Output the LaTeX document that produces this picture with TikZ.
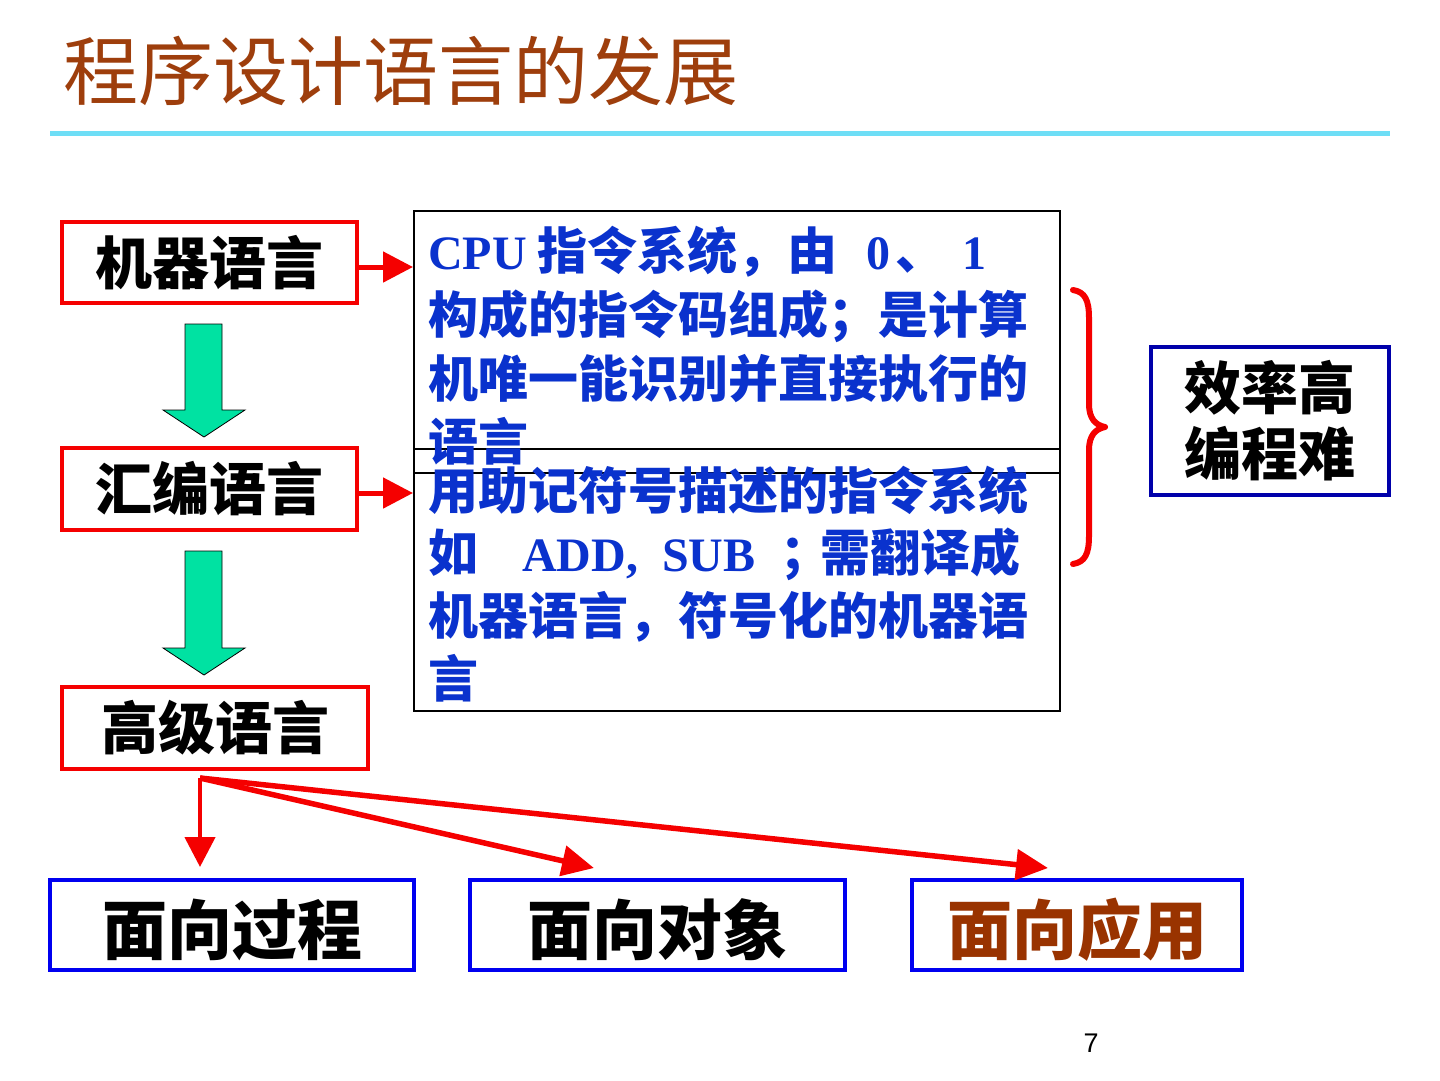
\documentclass[tikz,border=0pt]{standalone}
\usepackage{fontspec}
\setmainfont{Liberation Serif}
\newfontfamily\cjk{Noto Sans CJK SC}
\newfontfamily\lsans{Liberation Sans}
\usetikzlibrary{arrows.meta}
\definecolor{titlebrown}{RGB}{158,62,12}
\definecolor{rulecyan}{RGB}{110,222,246}
\definecolor{boxred}{RGB}{245,0,0}
\definecolor{arrgreen}{RGB}{0,226,162}
\definecolor{descblue}{RGB}{10,50,205}
\definecolor{effblue}{RGB}{0,0,170}
\definecolor{botblue}{RGB}{0,0,240}
\definecolor{appbrown}{RGB}{153,51,0}
\tikzset{
  redbox/.style={draw=boxred, line width=4pt, inner sep=0pt, font=\cjk\bfseries\fontsize{57}{64}\selectfont},
  descbox/.style={draw=black, line width=2pt, inner sep=0pt},
  effbox/.style={draw=effblue, line width=4pt, inner sep=0pt, align=center, font=\cjk\bfseries\fontsize{57}{66}\selectfont},
  botbox/.style={draw=botblue, line width=4pt, inner sep=0pt, text height=64pt, text depth=5pt, font=\cjk\bfseries\fontsize{65}{72}\selectfont},
  desctxt/.style={anchor=base west, inner sep=0pt, text=descblue, font=\cjk\bfseries\fontsize{50}{60}\selectfont},
  lattxt/.style={anchor=base west, inner sep=0pt, text=descblue, font=\bfseries\fontsize{48}{58}\selectfont},
  garrow/.style={fill=arrgreen, draw=black, line width=0.8pt, line join=miter},
  rarrow/.style={draw=boxred, line width=5pt, -{Triangle[length=30pt,width=30pt]}},
  rarrowb/.style={draw=boxred, line width=5.5pt, -{Triangle[length=32pt,width=30pt]}},
}
\begin{document}
\begin{tikzpicture}[x=1pt,y=-1pt]
\useasboundingbox (0,0) rectangle (1440,1080);
\fill[white] (0,0) rectangle (1440,1080);
% title
\node[anchor=west, inner sep=0pt, text=titlebrown, font=\cjk\fontsize{75}{80}\selectfont] (title) at (63,71) {程序设计语言的发展};
\draw[rulecyan, line width=5pt] (50,133) -- (1390,133);
% left boxes
\node[redbox, minimum width=295pt, minimum height=81pt] (m) at (209.5,262.5) {机器语言};
\node[redbox, minimum width=295pt, minimum height=82pt] (h) at (209.5,489) {汇编语言};
\node[redbox, minimum width=306pt, minimum height=82pt] (g) at (215,728) {高级语言};
% green block arrows
\draw[garrow] (185,324) -- (222,324) -- (222,410) -- (245,410) -- (204,437) -- (163,410) -- (185,410) -- cycle;
\draw[garrow] (185,551) -- (222,551) -- (222,648) -- (245,648) -- (204,675) -- (163,648) -- (185,648) -- cycle;
% description boxes
\node[descbox, minimum width=646pt, minimum height=262pt] (d1) at (737,342) {};
\node[descbox, minimum width=646pt, minimum height=262pt] (d2) at (737,580) {};
% description text, box 1
\node[lattxt] (a1) at (428,269) {CPU};
\node[desctxt] (a2) at (537,269) {指令系统，由};
\node[lattxt] (a3) at (866,269) {0};
\node[desctxt] (a4) at (895,269) {、};
\node[lattxt] (a5) at (962,269) {1};
\node[desctxt] (b1) at (428,333) {构成的指令码组成；是计算};
\node[desctxt] (c1) at (428,397) {机唯一能识别并直接执行的};
\node[desctxt] (e1) at (428,460) {语言};
% description text, box 2
\node[desctxt] (f1) at (428,509) {用助记符号描述的指令系统};
\node[desctxt] (k1) at (428,571) {如};
\node[lattxt] (k2) at (522,571) {ADD,};
\node[lattxt] (k3) at (662,571) {SUB};
\node[desctxt] (k4) at (780,571) {；};
\node[desctxt] (k5) at (820,571) {需翻译成};
\node[desctxt] (n1) at (428,634) {机器语言，符号化的机器语};
\node[desctxt] (q1) at (428,697) {言};
% arrows to descriptions
\draw[rarrow] ([yshift=-4.5pt]m.east) -- ([yshift=-4.5pt]m.east -| d1.west);
\draw[rarrow] ([yshift=-4pt]h.east) -- ([yshift=-4pt]h.east -| d2.west);
% brace
\draw[boxred, line width=6pt, line cap=round, line join=round]
  (1073,290) .. controls (1085,292) and (1089,300) .. (1089,318)
  -- (1089,404) .. controls (1089,418) and (1095,425) .. (1105,427)
  .. controls (1095,429) and (1089,436) .. (1089,450)
  -- (1089,536) .. controls (1089,554) and (1085,562) .. (1073,564);
% efficiency box
\node[effbox, minimum width=238pt, minimum height=148pt] (eff) at (1270,421) {效率高\\编程难};
% bottom boxes
\node[botbox, minimum width=364pt, minimum height=90pt] (p) at (232,925) {面向过程};
\node[botbox, minimum width=375pt, minimum height=90pt] (ob) at (657.5,925) {面向对象};
\node[botbox, minimum width=330pt, minimum height=90pt, text=appbrown] (ap) at (1077,925) {面向应用};
% fan arrows
\coordinate (o) at (200,778);
\coordinate (t1) at (200,867);
\coordinate (t2) at (594,868);
\coordinate (t3) at (1048,868);
\draw[rarrow, line width=4.5pt] (o) -- (t1);
\draw[rarrowb] (o) -- (t2);
\draw[rarrowb] (o) -- (t3);
% page number
\node[inner sep=0pt, font=\lsans\fontsize{27}{30}\selectfont] (pn) at (1091,1043) {7};
\end{tikzpicture}
\end{document}
